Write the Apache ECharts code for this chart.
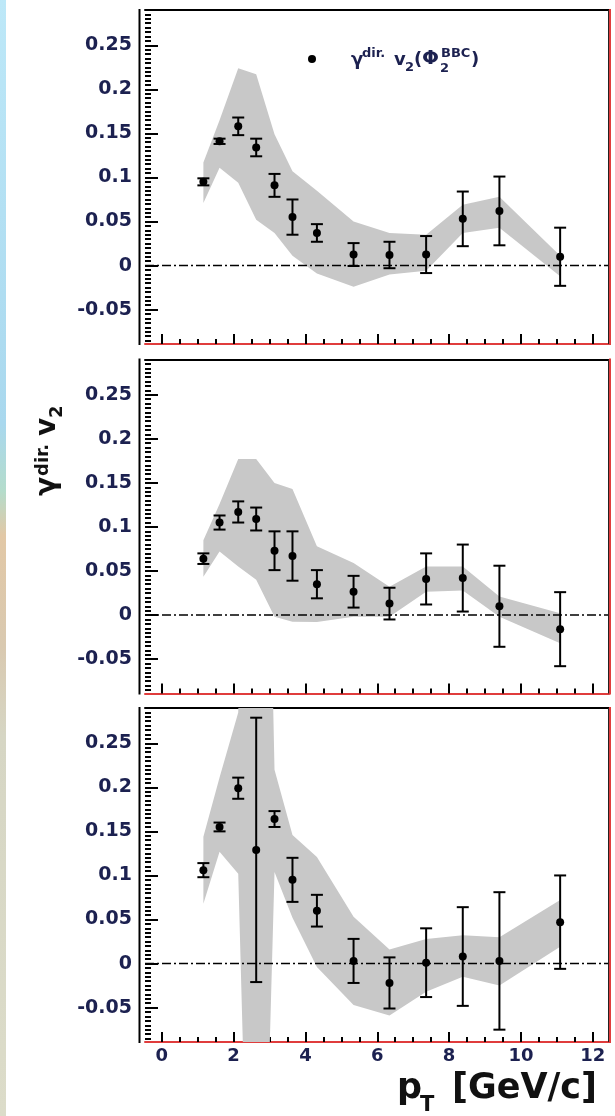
<!DOCTYPE html>
<html>
<head>
<meta charset="utf-8">
<script src="https://cdn.jsdelivr.net/npm/echarts@6/dist/echarts.min.js"></script>
<style>
  html, body { margin: 0; padding: 0; background: #fff; }
  #chart { width: 615px; height: 1116px; }
</style>
</head>
<body>
<div id="chart"></div>
<script>
// pT bin centres (GeV/c), shared by the three panels
const pt = [1.16, 1.61, 2.13, 2.63, 3.14, 3.64, 4.32, 5.34, 6.34, 7.36, 8.38, 9.40, 11.09];

// top panel: direct-photon v2 with statistical errors and systematic band
const v2A    = [0.095, 0.141, 0.158, 0.134, 0.091, 0.055, 0.037, 0.0125, 0.012, 0.0125, 0.053, 0.062, 0.010];
const errA   = [0.004, 0.003, 0.010, 0.010, 0.013, 0.020, 0.010, 0.013, 0.015, 0.021, 0.031, 0.039, 0.033];
const sysLoA = [0.071, 0.111, 0.094, 0.052, 0.037, 0.011, -0.009, -0.024, -0.010, -0.006, 0.037, 0.043, -0.012];
const sysHiA = [0.117, 0.165, 0.224, 0.217, 0.149, 0.107, 0.085, 0.050, 0.037, 0.035, 0.069, 0.078, 0.011];

// middle panel
const v2B    = [0.064, 0.105, 0.117, 0.109, 0.073, 0.067, 0.035, 0.0265, 0.013, 0.041, 0.042, 0.010, -0.016];
const errB   = [0.006, 0.008, 0.012, 0.013, 0.022, 0.028, 0.016, 0.018, 0.018, 0.029, 0.038, 0.046, 0.042];
const sysLoB = [0.0435, 0.072, 0.055, 0.040, -0.002, -0.0076, -0.008, -0.002, -0.002, 0.0265, 0.028, -0.002, -0.032];
const sysHiB = [0.085, 0.126, 0.177, 0.177, 0.150, 0.143, 0.078, 0.059, 0.032, 0.055, 0.055, 0.021, 0.002];

// bottom panel
const v2C    = [0.106, 0.155, 0.199, 0.129, 0.164, 0.095, 0.060, 0.003, -0.022, 0.001, 0.008, 0.003, 0.047];
const errC   = [0.008, 0.005, 0.012, 0.150, 0.009, 0.025, 0.018, 0.025, 0.029, 0.039, 0.056, 0.078, 0.053];
const sysLoC = [0.068, 0.127, 0.102, -0.65, 0.104, 0.052, -0.004, -0.047, -0.059, -0.032, -0.015, -0.025, 0.019];
const sysHiC = [0.144, 0.211, 0.285, 1.2, 0.220, 0.146, 0.121, 0.053, 0.016, 0.028, 0.032, 0.030, 0.072];

// axis ticks and labels
const xMajor = [0, 2, 4, 6, 8, 10, 12];
const xTickLabels = ['0', '2', '4', '6', '8', '10', '12'];
const yMajor = [-0.05, 0, 0.05, 0.1, 0.15, 0.2, 0.25];
const yTickLabels = ['-0.05', '0', '0.05', '0.1', '0.15', '0.2', '0.25'];

// axis ranges
const X_MIN = -0.465, X_MAX = 12.45;
const Y_MIN = -0.089, Y_MAX = 0.29;

// minor ticks: every 0.5 in pT, every 0.005 in v2
const xMinor = [];
for (let k = 1; k <= 24; k++) if (k % 4 !== 0) xMinor.push(k * 0.5);
const yMinor = [];
for (let k = -17; k <= 57; k++) if (k % 10 !== 0) yMinor.push(k / 200);

// layout
const GRID_LEFT = 145, GRID_W = 464, GRID_H = 334;
const panelTops = [10, 359.5, 708];
const TEXT = '#1c2150';
const FONT = '"DejaVu Sans", "Liberation Sans", sans-serif';
const RED = '#e03c3c';
const BAND = '#c8c8c8';

const sets = [
  { v2: v2A, err: errA, lo: sysLoA, hi: sysHiA },
  { v2: v2B, err: errB, lo: sysLoB, hi: sysHiB },
  { v2: v2C, err: errC, lo: sysLoC, hi: sysHiC }
];

function labelFor(ticks, labels) {
  return function (v) {
    const i = ticks.findIndex(t => Math.abs(t - v) < 1e-9);
    return i >= 0 ? labels[i] : '';
  };
}

// systematic band: one polygon through the upper edge and back along the lower edge
function renderBand(params, api) {
  if (params.dataIndex !== 0) return null;
  const n = params.dataInsideLength;
  const pts = [];
  for (let i = 0; i < n; i++) pts.push(api.coord([api.value(0, i), api.value(2, i)]));
  for (let i = n - 1; i >= 0; i--) pts.push(api.coord([api.value(0, i), api.value(1, i)]));
  return { type: 'polygon', shape: { points: pts }, style: { fill: BAND } };
}

// data point with symmetric statistical error bar and caps
function renderErrorBar(params, api) {
  const x = api.value(0), y = api.value(1), e = api.value(2);
  const c = api.coord([x, y]);
  const up = api.coord([x, y + e]);
  const dn = api.coord([x, y - e]);
  const w = 6;
  const st = { stroke: '#000', lineWidth: 2, fill: null };
  return {
    type: 'group',
    children: [
      { type: 'line', shape: { x1: c[0], y1: up[1], x2: c[0], y2: dn[1] }, style: st },
      { type: 'line', shape: { x1: c[0] - w, y1: up[1], x2: c[0] + w, y2: up[1] }, style: st },
      { type: 'line', shape: { x1: c[0] - w, y1: dn[1], x2: c[0] + w, y2: dn[1] }, style: st },
      { type: 'circle', shape: { cx: c[0], cy: c[1], r: 4 }, style: { fill: '#000' } }
    ]
  };
}

const grid = [], xAxis = [], yAxis = [], series = [], graphic = [];

sets.forEach((s, p) => {
  const top = panelTops[p];
  const lowest = p === sets.length - 1;
  grid.push({ left: GRID_LEFT, top: top, width: GRID_W, height: GRID_H, show: false });

  // bottom axis: red line, major ticks, labels on the lowest panel
  xAxis.push({
    type: 'value', gridIndex: p, min: X_MIN, max: X_MAX, position: 'bottom',
    axisLine: { show: true, onZero: false, lineStyle: { color: RED, width: 2 } },
    axisTick: { show: true, inside: true, length: 10, customValues: xMajor, lineStyle: { color: '#000', width: 2 } },
    axisLabel: {
      show: lowest, customValues: xMajor, formatter: labelFor(xMajor, xTickLabels), margin: 5,
      color: TEXT, fontFamily: FONT, fontWeight: 'bold', fontSize: 18
    },
    splitLine: { show: false }
  });
  // bottom axis minor ticks
  xAxis.push({
    type: 'value', gridIndex: p, min: X_MIN, max: X_MAX, position: 'bottom',
    axisLine: { show: false, onZero: false },
    axisTick: { show: true, inside: true, length: 5, customValues: xMinor, lineStyle: { color: '#000', width: 2 } },
    axisLabel: { show: false }, splitLine: { show: false }
  });
  // top frame edge
  xAxis.push({
    type: 'value', gridIndex: p, min: X_MIN, max: X_MAX, position: 'top',
    axisLine: { show: true, onZero: false, lineStyle: { color: '#000', width: 2 } },
    axisTick: { show: false }, axisLabel: { show: false }, splitLine: { show: false }
  });

  yAxis.push({
    type: 'value', gridIndex: p, min: Y_MIN, max: Y_MAX, position: 'left',
    axisLine: { show: false, onZero: false },
    axisTick: { show: true, inside: true, length: 13, customValues: yMajor, lineStyle: { color: '#000', width: 2 } },
    axisLabel: {
      show: true, customValues: yMajor, formatter: labelFor(yMajor, yTickLabels), margin: 13,
      color: TEXT, fontFamily: FONT, fontWeight: 'bold', fontSize: 19
    },
    splitLine: { show: false }
  });
  yAxis.push({
    type: 'value', gridIndex: p, min: Y_MIN, max: Y_MAX, position: 'left',
    axisLine: { show: false, onZero: false },
    axisTick: { show: true, inside: true, length: 6, customValues: yMinor, lineStyle: { color: '#000', width: 2 } },
    axisLabel: { show: false }, splitLine: { show: false }
  });

  const xi = 3 * p, yi = 2 * p;
  series.push({
    type: 'custom', name: 'sys' + p, xAxisIndex: xi, yAxisIndex: yi, clip: true, z: 2, silent: true,
    data: pt.map((x, i) => [x, s.lo[i], s.hi[i]]),
    renderItem: renderBand
  });
  series.push({
    type: 'line', name: 'zero' + p, xAxisIndex: xi, yAxisIndex: yi, z: 3, silent: true,
    symbol: 'none', data: [[X_MIN, 0], [X_MAX, 0]],
    lineStyle: { color: '#000', width: 1.5, type: [9, 3, 2, 3] }
  });
  series.push({
    type: 'custom', name: 'v2_' + p, xAxisIndex: xi, yAxisIndex: yi, z: 4, silent: true,
    data: pt.map((x, i) => [x, s.v2[i], s.err[i]]),
    renderItem: renderErrorBar
  });

  // frame: detached left rule and the right edge
  const bottom = top + GRID_H;
  graphic.push({ type: 'line', silent: true, z: 10,
    shape: { x1: 139.5, y1: top - 1, x2: 139.5, y2: bottom + 1 }, style: { stroke: '#000', lineWidth: 2 } });
  graphic.push({ type: 'line', silent: true, z: 10,
    shape: { x1: 608.5, y1: top, x2: 608.5, y2: bottom }, style: { stroke: '#222', lineWidth: 1 } });
  graphic.push({ type: 'line', silent: true, z: 10,
    shape: { x1: 610, y1: top - 1, x2: 610, y2: bottom + 1 }, style: { stroke: RED, lineWidth: 2 } });
});

// text piece positioned by its baseline
function txt(str, x, baseline, size, color, extra) {
  return Object.assign({
    type: 'text', x: x, y: baseline - 0.34 * size, silent: true,
    style: {
      text: str, fill: color || TEXT, font: 'bold ' + size + 'px ' + FONT,
      align: 'left', verticalAlign: 'middle', textAlign: 'left', textVerticalAlign: 'middle'
    }
  }, extra || {});
}

// coloured strip at the left edge
graphic.push({
  type: 'rect', silent: true, z: 0,
  shape: { x: 0, y: 0, width: 6, height: 1116 },
  style: {
    fill: {
      type: 'linear', x: 0, y: 0, x2: 0, y2: 1,
      colorStops: [
        { offset: 0, color: '#bde8f8' },
        { offset: 0.38, color: '#a9d8ee' },
        { offset: 0.44, color: '#b4dccb' },
        { offset: 0.48, color: '#e2c8a6' },
        { offset: 0.58, color: '#d9c9b0' },
        { offset: 0.66, color: '#d6d6c4' },
        { offset: 1, color: '#dcdcc9' }
      ]
    }
  }
});

// legend entry in the top panel
graphic.push({ type: 'circle', silent: true, z: 20, shape: { cx: 312, cy: 59, r: 4 }, style: { fill: '#000' } });
graphic.push({
  type: 'group', silent: true, z: 20,
  children: [
    txt('γ', 351, 66, 18),
    txt('dir.', 362, 58, 13),
    txt('v', 394, 66, 18),
    txt('2', 405, 72, 13),
    txt('(', 414, 66, 18),
    txt('Φ', 422, 66, 20),
    txt('2', 440, 73, 13),
    txt('BBC', 441, 58, 13),
    txt(')', 471, 66, 18)
  ]
});

// y axis title, reading bottom to top
graphic.push({
  type: 'group', silent: true, z: 20, x: 57, y: 496, rotation: Math.PI / 2,
  children: [
    txt('γ', 0, 0, 28, '#111'),
    txt('dir.', 20, -8, 18, '#111'),
    txt('v', 60, 0, 28, '#111'),
    txt('2', 78, 6, 18, '#111')
  ]
});

// x axis title
graphic.push({
  type: 'group', silent: true, z: 20,
  children: [
    txt('p', 397, 1101, 35, '#111'),
    txt('T', 420, 1113, 21, '#111'),
    txt('[GeV/c]', 452, 1101, 35, '#111')
  ]
});

const chart = echarts.init(document.getElementById('chart'));
chart.setOption({
  animation: false,
  backgroundColor: '#fff',
  grid: grid,
  xAxis: xAxis,
  yAxis: yAxis,
  series: series,
  graphic: graphic
});
</script>
</body>
</html>
